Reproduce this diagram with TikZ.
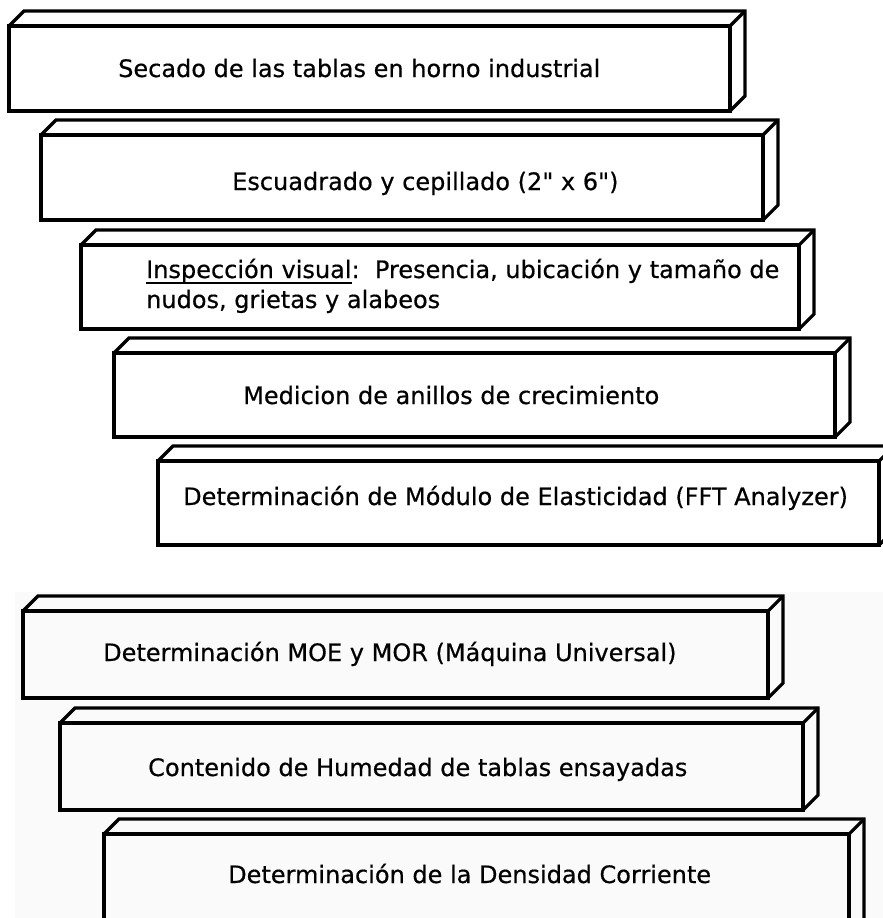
\documentclass[tikz,border=0pt]{standalone}
\usepackage{fontspec}
\setmainfont{DejaVu Sans}[FakeBold=0.5, Ligatures=TeXOff]
\newcommand\cuboidbox[5]{% name, x0, y0, x1, y1
  \draw[boxline] (#2,#3) rectangle (#4,#5);
  \draw[boxline] (#2,#3) -- ++(15,-15) -- (#4+15,#3-15) -- (#4+15,#5-15) -- (#4,#5);
  \draw[boxline] (#4,#3) -- ++(15,-15);
  \coordinate (#1) at (#2,#3);
}
\newlength\ulw
\newcommand\thickul[1]{\settowidth\ulw{#1}\rlap{\rule[-6pt]{\ulw}{1.8pt}}#1}
\begin{document}
\begin{tikzpicture}[x=1pt,y=-1pt]
\tikzset{
  boxline/.style={draw=black, line width=3.2pt, line join=miter},
  boxtext/.style={anchor=base west, inner sep=0pt, font=\fontsize{24}{28}\selectfont}
}
\useasboundingbox (0,0) rectangle (883,918);
\fill[white] (0,0) rectangle (883,918);
\clip (0,0) rectangle (883,918);
\fill[black!2] (15,592) rectangle (883,918);

\cuboidbox{b1}{9}{26}{730}{111}
\cuboidbox{b2}{41}{135}{763}{220}
\cuboidbox{b3}{81}{245}{799}{329}
\cuboidbox{b4}{114}{353}{835}{437}
\cuboidbox{b5}{158}{461}{879}{545}
\cuboidbox{b6}{23}{611}{768}{698}
\cuboidbox{b7}{60}{723}{803}{810}
\cuboidbox{b8}{104}{834}{849}{940}

\node[boxtext] (t1) at (118,77) {Secado de las tablas en horno industrial};
\node[boxtext] (t2) at (232,190) {Escuadrado y cepillado (2" x 6")};
\node[boxtext] (t3a) at (146,278) {\thickul{Inspección visual}:\ \ Presencia, ubicación y tamaño de};
\node[boxtext] (t3b) at (146,308) {nudos, grietas y alabeos};
\node[boxtext] (t4) at (243,404) {Medicion de anillos de crecimiento};
\node[boxtext] (t5) at (183,505) {Determinación de Módulo de Elasticidad (FFT Analyzer)};
\node[boxtext] (t6) at (103,661) {Determinación MOE y MOR (Máquina Universal)};
\node[boxtext] (t7) at (148,776) {Contenido de Humedad de tablas ensayadas};
\node[boxtext] (t8) at (228,883) {Determinación de la Densidad Corriente};
\end{tikzpicture}
\end{document}
